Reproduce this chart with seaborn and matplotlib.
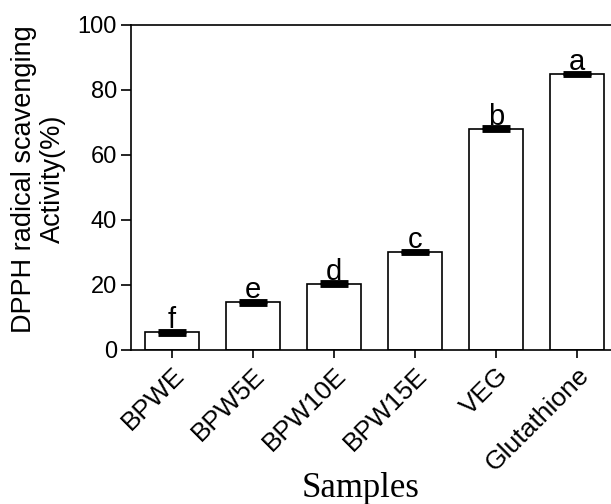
import matplotlib
matplotlib.use("Agg")
import matplotlib.pyplot as plt
import seaborn as sns
import pandas as pd

samples = ["BPWE", "BPW5E", "BPW10E", "BPW15E", "VEG", "Glutathione"]
activity = [5.4, 14.7, 20.4, 30.2, 68.1, 84.9]
errors = [0.5, 0.4, 0.4, 0.4, 0.4, 0.4]
letters = ["f", "e", "d", "c", "b", "a"]

df = pd.DataFrame({"Samples": samples, "Activity": activity})

sns.set_theme(style="ticks")
plt.rcParams["font.family"] = ["Liberation Sans", "DejaVu Sans"]

fig = plt.figure(figsize=(6.11, 5.04), dpi=100)
ax = fig.add_axes([0.2152, 0.3056, 0.7954, 0.6448])

sns.barplot(data=df, x="Samples", y="Activity", color="white", edgecolor="black",
            linewidth=1.2, width=0.66, errorbar=None, ax=ax)
ax.errorbar(range(len(samples)), activity, yerr=errors, fmt="none", ecolor="black",
            elinewidth=1.5, capsize=10, capthick=3.5)

for i, (v, e, lab) in enumerate(zip(activity, errors, letters)):
    ax.text(i, v + e + 0.8, lab, ha="center", va="baseline", fontsize=21, color="black")

ax.set_xlim(-0.5, 5.5)
ax.set_ylim(0, 100)
ax.set_yticks([0, 20, 40, 60, 80, 100])
for s in ["left", "bottom", "top", "right"]:
    ax.spines[s].set_linewidth(1.2)
    ax.spines[s].set_color("black")

ax.tick_params(axis="both", width=1.2, length=7, color="black", labelcolor="black")
ax.tick_params(axis="y", labelsize=17)
ax.tick_params(axis="x", labelsize=19, length=6)
plt.setp(ax.get_xticklabels(), rotation=45, ha="right", rotation_mode="anchor")

ax.set_ylabel("DPPH radical scavenging\nActivity(%)", fontsize=19.5, linespacing=1.12, color="black")
ax.yaxis.set_label_coords(-0.135, 0.526)
ax.set_xlabel("Samples", fontsize=25, family=["Liberation Serif", "DejaVu Serif"], color="black")
ax.xaxis.label.set_va("baseline")
ax.xaxis.set_label_coords(0.472, -0.452)

fig.savefig("out.png", dpi=100)
